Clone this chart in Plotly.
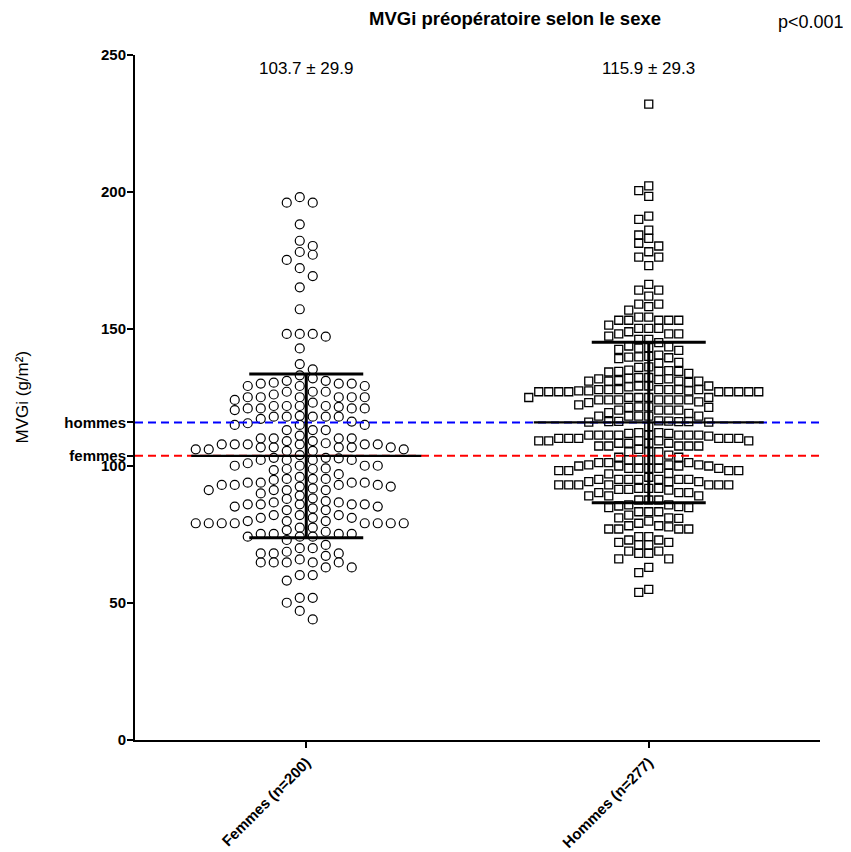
import plotly.graph_objects as go

categories = ["Femmes (n=200)", "Hommes (n=277)"]

femmes = [
    198.1, 196.1, 196.1, 188.2, 182.2, 180.3, 178.1, 177.1, 175.2, 172.2, 169.3, 165.2,
    157.2, 148.2, 148.2, 148.2, 147.2, 142.9, 137.2, 135.3, 133.1,
    130.1, 130.1, 129.2, 129.2, 130.4, 129.2, 131.1, 132.0, 130.1, 131.1,
    125.1, 125.1, 125.1, 125.1, 125.1, 125.1, 127.1, 127.1, 126.1, 127.1,
    121.0, 121.6, 120.4, 121.0, 121.0, 121.9, 121.0, 121.9, 124.1, 123.1, 121.9, 121.9,
    79.9,
    106.8, 93.1, 82.1,
    106.8, 92.5, 86.7,
    107.9, 102.2, 97.0, 93.1, 86.0, 81.1, 77.5,
    118.0, 110.1, 105.5, 100.1, 92.5, 89.2, 83.9, 79.1,
    115.0, 110.1, 106.8, 102.2, 98.5, 91.2, 86.0, 79.1,
    115.0, 109.1, 106.1, 101.0, 93.1, 85.2, 81.1, 77.5,
    115.6, 107.9, 102.8, 99.1, 93.9, 86.0, 79.9,
    118.0, 113.1, 109.1, 106.1, 102.2, 98.9, 93.9, 85.2, 79.1,
    117.2, 113.1, 108.3, 105.5, 100.1, 94.9, 91.2, 88.0, 84.5, 79.1,
    118.0, 113.1, 107.9, 104.0, 100.1, 95.3, 91.8, 87.2, 79.1,
    116.2, 111.1, 106.8, 103.0, 93.9, 90.0, 86.0, 79.1,
    118.3, 115.0, 110.1, 106.1, 100.1, 95.3, 91.2, 82.1, 76.6,
    118.0, 107.9, 103.0, 98.9, 95.3, 91.2, 88.2, 83.9, 79.1,
    118.0, 110.1, 106.8, 102.2, 93.1, 86.0, 79.1,
    107.9, 93.9, 86.7, 81.1,
    107.9, 82.1,
    79.9,
    74.2, 68.1,
    75.2, 68.7, 64.8,
    73.0, 70.0, 64.8,
    75.2, 68.1, 63.0, 50.1,
    74.2, 67.2, 63.0, 58.2, 44.0,
    75.2, 64.8, 60.2, 51.9, 47.1,
    71.2, 64.8, 60.2, 51.9,
    74.2, 70.0, 65.9,
    76.0, 64.8,
    75.2, 68.1,
    96.0,
]

hommes = [
    232.1, 202.2, 200.5, 198.4, 191.2, 190.0, 186.1, 184.3, 183.1, 181.3, 180.3, 178.2,
    176.2, 176.2, 173.1, 166.3, 164.2, 164.2, 162.0, 159.1, 159.1, 158.2, 156.9,
    154.3, 154.3, 153.2, 153.2, 153.2, 153.2, 153.2, 151.4, 150.2, 150.2, 150.2, 149.0,
    148.2, 148.2, 148.2, 147.4, 146.2, 146.2, 145.0,
    143.5, 143.0, 143.2, 142.6, 143.8, 142.2,
    139.7, 140.0, 139.2, 140.5, 139.8, 139.5,
    137.5, 137.8, 136.0, 136.2,
    134.5, 135.0, 134.8, 134.5, 134.3, 133.8, 134.5,
    132.0, 131.5, 132.3, 131.8, 131.2, 131.0, 131.0, 131.0, 131.0, 130.5, 131.8, 132.3,
    128.9, 127.9, 127.9, 127.4, 127.1, 127.1, 127.1, 127.4, 127.9, 127.1, 127.1, 127.1,
    129.2, 127.9, 127.9, 127.1, 127.1, 129.2, 127.9, 127.1, 127.4, 127.9, 129.2,
    124.1, 123.4, 124.1, 124.1, 125.0, 125.0, 125.0, 124.1, 125.0, 123.1, 124.1, 122.3,
    125.0, 124.1, 124.1,
    118.2, 120.4, 119.2, 120.4, 121.4, 121.6, 121.4, 120.4, 118.2, 118.2, 119.5, 118.2,
    120.4, 121.6, 118.2,
    116.2, 116.5, 116.0, 116.3, 116.2, 116.4, 116.0, 116.2,
    111.3, 111.3, 111.3, 112.2, 114.4, 110.9, 112.2, 111.3, 110.1, 110.1, 110.1, 111.3,
    111.9, 110.1, 109.2, 110.1, 111.9, 110.1, 109.2, 111.3, 111.3, 111.3,
    108.3, 109.2, 109.2, 107.3, 108.3, 109.2, 107.3, 107.3, 107.3, 105.2, 108.3, 107.3,
    108.3, 105.2, 104.0,
    105.2, 106.1,
    102.2, 103.2, 102.2, 101.2, 102.2, 103.2, 101.2, 102.2, 101.2,
    100.4, 98.3, 99.1, 99.1, 98.3, 99.1, 98.3, 100.0, 99.1, 100.4, 99.1, 100.0, 100.0,
    100.4, 98.3, 97.3, 100.0,
    95.1, 93.1, 95.1, 95.1, 93.1, 91.8, 95.1, 94.3, 93.1, 94.3, 95.9, 94.3, 95.1, 95.1,
    97.1, 95.1, 93.1, 93.1, 93.1, 93.1,
    91.5, 90.3, 89.1, 90.3, 91.5, 91.8, 91.8, 89.1, 90.3, 91.2, 89.1, 87.6, 87.6, 87.6,
    85.8, 83.3, 84.8, 85.8, 85.4, 85.2, 84.8, 83.3, 83.3,
    79.9, 78.2, 81.1, 81.1, 82.1, 80.9, 78.2, 79.1,
    74.2, 77.0, 77.0, 77.0, 77.8, 77.0,
    71.2, 72.1, 73.0, 73.0, 74.2, 71.2, 72.1,
    68.9, 68.1, 66.1, 66.1, 68.1, 68.9,
    63.0, 61.1,
    53.9, 55.0,
]

means = [103.7, 115.9]
sds = [29.9, 29.3]
stat_labels = ["103.7 ± 29.9", "115.9 ± 29.3"]
ref_names = ["femmes", "hommes"]
ref_colors = ["#ff0000", "#0000ff"]
title_text = "MVGi préopératoire selon le sexe"
p_text = "p<0.001"
y_title = "MVGi (g/m²)"

FONT = "Arial, Liberation Sans, sans-serif"

# ---- layout geometry (page body adds an 8px offset) ----
W, H = 843, 844
L, R, T, B = 127, 31, 47, 112
plot_w = W - L - R
plot_h = H - T - B
y_max = 250
px_per_y = plot_h / y_max
px_per_x = plot_w / 2.0
OX, OY = 8, 8          # page offset of the figure in the window
PL, PT = L + OX, T + OY  # plot-area origin in window pixels


def swarm(values, slot_px, sep_px, half):
    """Beeswarm: put each point in the free column slot nearest the centre."""
    order = sorted(range(len(values)), key=lambda i: -values[i])
    cols = {}
    offs = [0.0] * len(values)
    if half:
        cand = []
        for k in range(60):
            cand += [-(k + 0.5), (k + 0.5)]
    else:
        cand = [0.0]
        for k in range(1, 60):
            cand += [-k, k]
    for i in order:
        ypx = values[i] * px_per_y
        for c in cand:
            used = cols.setdefault(c, [])
            if all(abs(ypx - u) >= sep_px for u in used):
                used.append(ypx)
                offs[i] = c * slot_px / px_per_x
                break
    return offs


f_off = swarm(femmes, 13, 8.6, True)
h_off = swarm(hommes, 10, 8.2, False)

fig = go.Figure()
fig.add_trace(go.Scatter(
    x=[0 + o for o in f_off], y=femmes, mode="markers",
    marker=dict(symbol="circle", size=9, color="white",
                line=dict(color="black", width=1.2)),
    showlegend=False, hoverinfo="y"))
fig.add_trace(go.Scatter(
    x=[1 + o for o in h_off], y=hommes, mode="markers",
    marker=dict(symbol="square", size=8, color="white",
                line=dict(color="black", width=1.3)),
    showlegend=False, hoverinfo="y"))

shapes = []
for m, col in zip(means, ref_colors):
    shapes.append(dict(type="line", xref="paper", yref="y", x0=0, x1=1, y0=m, y1=m,
                       line=dict(color=col, width=2, dash="8px,5px"), layer="above"))
mean_half = 115 / px_per_x
cap_half = 57 / px_per_x
for i, (m, s) in enumerate(zip(means, sds)):
    shapes.append(dict(type="line", xref="x", yref="y", x0=i - mean_half, x1=i + mean_half,
                       y0=m, y1=m, line=dict(color="black", width=2.2), layer="above"))
    shapes.append(dict(type="line", xref="x", yref="y", x0=i, x1=i,
                       y0=m - s, y1=m + s, line=dict(color="black", width=3), layer="above"))
    for yy in (m - s, m + s):
        shapes.append(dict(type="line", xref="x", yref="y", x0=i - cap_half, x1=i + cap_half,
                           y0=yy, y1=yy, line=dict(color="black", width=3), layer="above"))

annotations = []
for i, lab in enumerate(stat_labels):
    annotations.append(dict(x=i, y=1 - (68 - PT) / plot_h, xref="x", yref="paper",
                            text=lab, showarrow=False, xanchor="center", yanchor="middle",
                            font=dict(size=17, color="black", family=FONT)))
annotations.append(dict(x=(515 - PL) / plot_w, y=1 + (PT - 18) / plot_h, xref="paper", yref="paper",
                        text="<b>" + title_text + "</b>", showarrow=False,
                        xanchor="center", yanchor="middle",
                        font=dict(size=18.5, color="black", family=FONT)))
annotations.append(dict(x=(846 - PL) / plot_w, y=1 + (PT - 22) / plot_h, xref="paper", yref="paper",
                        text=p_text, showarrow=False, xanchor="right", yanchor="middle",
                        font=dict(size=18, color="black", family=FONT)))
annotations.append(dict(x=(22 - PL) / plot_w, y=0.5, xref="paper", yref="paper",
                        text=y_title, showarrow=False, textangle=-90,
                        xanchor="center", yanchor="middle",
                        font=dict(size=17, color="black", family=FONT)))

ytick_vals = [0, 50, 100, means[0], means[1], 150, 200, 250]
ytick_text = ["0", "50", "100", ref_names[0], ref_names[1], "150", "200", "250"]

fig.update_layout(
    width=W, height=H,
    margin=dict(l=L, r=R, t=T, b=B, autoexpand=False),
    plot_bgcolor="white", paper_bgcolor="white",
    shapes=shapes, annotations=annotations,
    xaxis=dict(range=[-0.5, 1.5], tickvals=[0, 1], ticktext=categories, tickangle=-45,
               showgrid=False, zeroline=False, showline=True, linecolor="black", linewidth=2,
               ticks="outside", ticklen=6, tickwidth=2, tickcolor="black",
               tickfont=dict(size=15, color="black", family=FONT, weight="bold")),
    yaxis=dict(range=[0, y_max], tickvals=ytick_vals, ticktext=ytick_text,
               showgrid=False, zeroline=False, showline=True, linecolor="black", linewidth=2,
               ticks="outside", ticklen=6, tickwidth=2, tickcolor="black",
               ticklabelstandoff=-2,
               tickfont=dict(size=15, color="black", family=FONT, weight="bold")),
)

fig.write_html("out.html")
